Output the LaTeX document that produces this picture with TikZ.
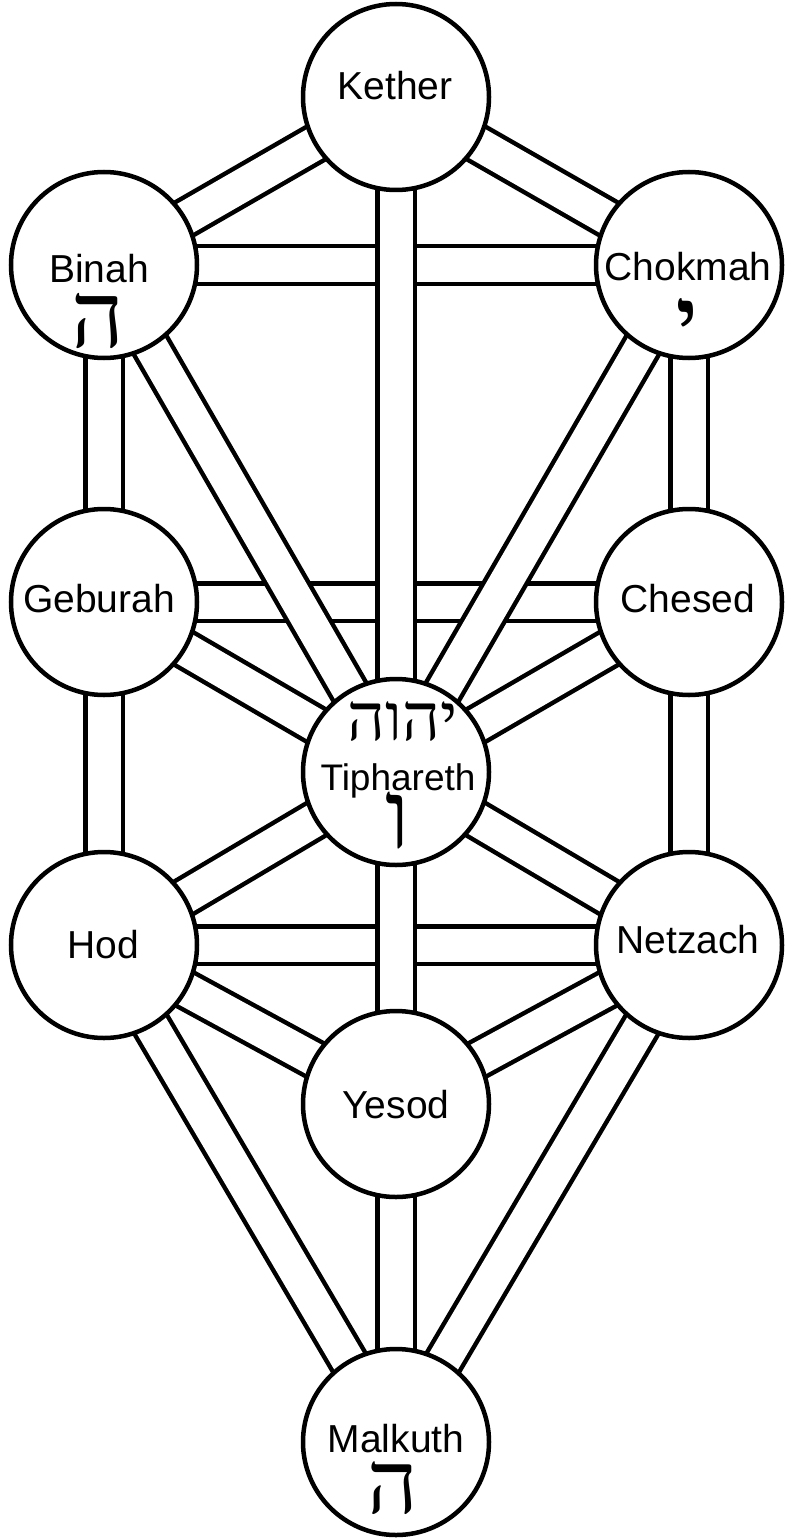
\documentclass[tikz,border=0pt]{standalone}
\usepackage{fontspec}
\setmainfont{Liberation Sans}
\newfontfamily\hebfont[Script=Hebrew]{Liberation Serif}
\TeXXeTstate=1
\begin{document}
\begin{tikzpicture}[x=1pt,y=-1pt,
  band/.style={line width=4.5pt, double=white, double distance=33pt},
  sephira/.style={circle, draw, line width=4.5pt, fill=white, minimum size=186pt, inner sep=0pt},
  lbl/.style={anchor=base, inner sep=0pt, font=\fontsize{39}{40}\selectfont},
  heb/.style={anchor=base, inner sep=0pt}]
\useasboundingbox[fill=white] (0,0) rectangle (786,1538);
% centres
\coordinate (pK)  at (396,97);
\coordinate (pB)  at (104,265);
\coordinate (pC)  at (689,265);
\coordinate (pG)  at (104,602);
\coordinate (pCh) at (689,602);
\coordinate (pT)  at (396,772);
\coordinate (pH)  at (104,945);
\coordinate (pN)  at (689,945);
\coordinate (pY)  at (396,1104);
\coordinate (pM)  at (396,1442);
% horizontal paths (underneath)
\draw[band] (pB) -- (pC);
\draw[band] (pG) -- (pCh);
\draw[band] (pH) -- (pN);
% other paths
\draw[band] (pK) -- (pB);
\draw[band] (pK) -- (pC);
\draw[band] (pB) -- (pG);
\draw[band] (pC) -- (pCh);
\draw[band] (pG) -- (pH);
\draw[band] (pCh) -- (pN);
\draw[band] (pB) -- (pT);
\draw[band] (pC) -- (pT);
\draw[band] (pG) -- (pT);
\draw[band] (pCh) -- (pT);
\draw[band] (pH) -- (pT);
\draw[band] (pN) -- (pT);
\draw[band] (pH) -- (pY);
\draw[band] (pN) -- (pY);
\draw[band] (pH) -- (pM);
\draw[band] (pN) -- (pM);
\draw[band] (pY) -- (pM);
\draw[band] (pK) -- (pT);
\draw[band] (pT) -- (pY);
% sephiroth
\node[sephira] (K)  at (pK)  {};
\node[sephira] (B)  at (pB)  {};
\node[sephira] (C)  at (pC)  {};
\node[sephira] (G)  at (pG)  {};
\node[sephira] (Ch) at (pCh) {};
\node[sephira] (T)  at (pT)  {};
\node[sephira] (H)  at (pH)  {};
\node[sephira] (N)  at (pN)  {};
\node[sephira] (Y)  at (pY)  {};
\node[sephira] (M)  at (pM)  {};
% labels
\node[lbl] (tK)  at (395,100)  {Kether};
\node[lbl] (tB)  at (99,282)   {Binah};
\node[lbl] (tC)  at (688,280)  {Chokmah};
\node[lbl] (tG)  at (99,612)   {Geburah};
\node[lbl] (tCh) at (688,612)  {Chesed};
\node[lbl, font=\fontsize{37}{40}\selectfont] (tT) at (398,790) {Tiphareth};
\node[lbl] (tH)  at (103,958)  {Hod};
\node[lbl] (tN)  at (688,953)  {Netzach};
\node[lbl] (tY)  at (396,1118) {Yesod};
\node[lbl] (tM)  at (396,1452) {Malkuth};
% hebrew letters
\node[heb] (hB) at (98,347)  {\hebfont\fontsize{92}{92}\selectfont ה};
\node[heb] (hC) at (687,345) {\hebfont\fontsize{80}{80}\selectfont\bfseries י};
\node[heb] (hT1) at (403,740) {\hebfont\fontsize{66}{66}\selectfont\beginR יהוה\endR};
\node[heb] (hT2) at (398,848) {\hebfont\fontsize{96}{96}\selectfont ו};
\node[heb] (hM) at (393,1513) {\hebfont\fontsize{88}{88}\selectfont ה};
\end{tikzpicture}
\end{document}
